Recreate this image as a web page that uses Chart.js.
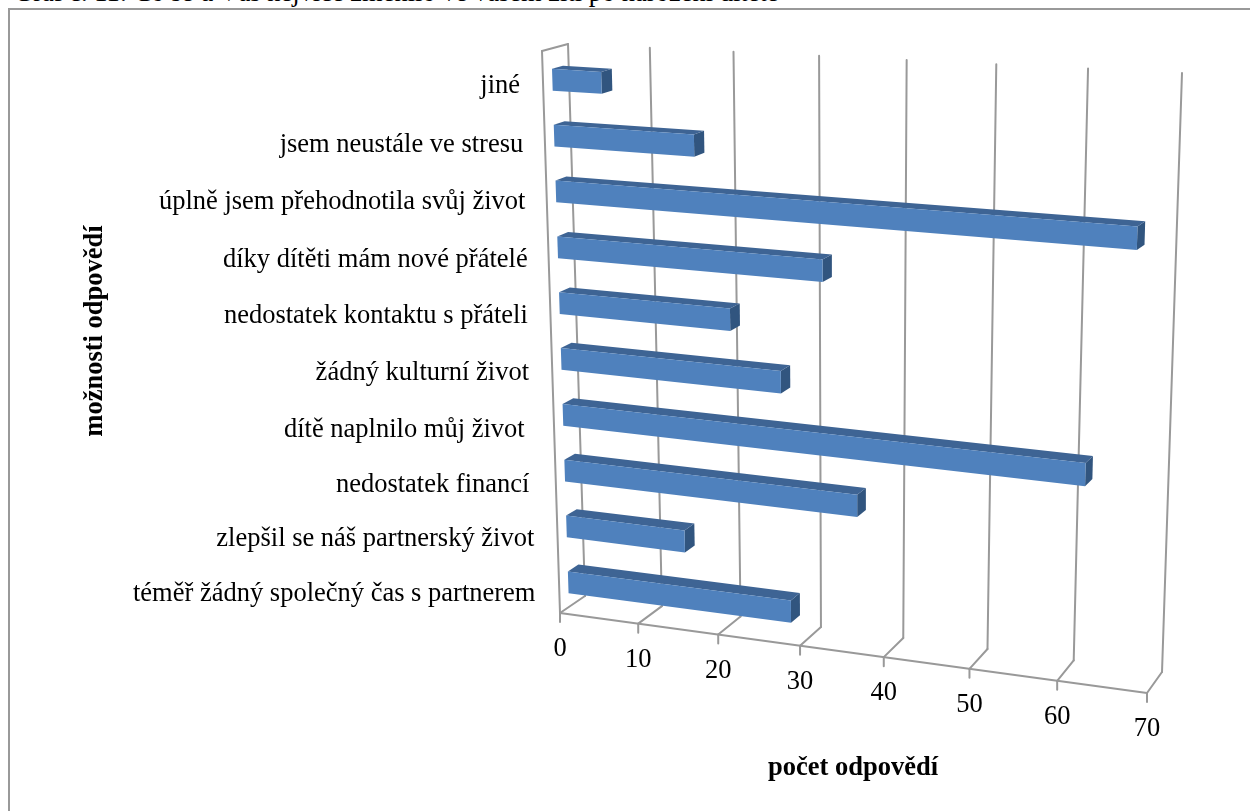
<!DOCTYPE html>
<html>
<head>
<meta charset="utf-8">
<title>možnosti odpovědí</title>
<script src="https://cdn.jsdelivr.net/npm/chart.js@4"></script>
<style>
    html, body { margin: 0; padding: 0; background: #fff; overflow: hidden; }
    #wrap { position: relative; width: 1250px; height: 811px; overflow: hidden; }
    #caption {
        position: absolute; left: 14px; top: -23px; line-height: 30px; white-space: nowrap;
        font-family: "Liberation Serif", serif; font-size: 26.5px; color: #000;
    }
    #frame {
        position: absolute; left: 8px; top: 8px; width: 1300px; height: 900px;
        border: 2px solid #999;
        background: #fff;
    }
    canvas { position: absolute; left: 0; top: 0; }
</style>
</head>
<body>
<div id="wrap">
    <div id="caption">Graf č. 11: Co se u Vás nejvíce změnilo ve vašem žití po narození dítěte</div>
    <div id="frame"></div>
    <canvas id="barChart" width="1250" height="811"></canvas>
</div>
<script>
const categories = [
    "jiné ",
    "jsem neustále ve stresu ",
    "úplně jsem přehodnotila svůj život ",
    "díky dítěti mám nové přátelé ",
    "nedostatek kontaktu s přáteli ",
    "žádný kulturní život ",
    "dítě naplnilo můj život  ",
    "nedostatek financí ",
    "zlepšil se náš partnerský život",
    "téměř žádný společný čas s partnerem"
];
const answers = [6, 17, 67, 32, 21, 27, 62, 36, 15, 28];
const valueTicks = [0, 10, 20, 30, 40, 50, 60, 70];
const yTitle = "možnosti odpovědí";
const xTitle = "počet odpovědí";

// corners of the 3D box on the page: front/back, bottom/top, left/right
const box = {
    fbl: [560, 613], fbr: [1147, 693], bbl: [585, 596], bbr: [1162, 672],
    ftl: [542, 51], ftr: [1163, 83], btl: [568, 44], btr: [1182, 73]
};
const foreshorten = 1.084;
const barDepth = [0.36, 0.78];
const barDrop = 0.006;
const barSag = 6;
const labelFont = '26.5px "Liberation Serif", serif';
const titleFont = 'bold 26.5px "Liberation Serif", serif';
// small hand nudges so the category labels sit like the original
const labelNudgeX = [2, 4, 5, 6, 5, 5, 6, 3, 0, 0];
const labelNudgeY = [-3, -1, 0, 2, 2, 3, 3, 2, 0, -1];

function mix(a, b, t) {
    return [a[0] + (b[0] - a[0]) * t, a[1] + (b[1] - a[1]) * t];
}

function bend(u) {
    return u / (u + foreshorten * (1 - u));
}

// u: 0-1 along the value axis, h: 0-1 up the wall, d: 0 front, 1 back
function project(u, h, d) {
    const k = bend(u);
    const front = mix(mix(box.fbl, box.fbr, k), mix(box.ftl, box.ftr, k), h);
    const back = mix(mix(box.bbl, box.bbr, k), mix(box.btl, box.btr, k), h);
    return mix(front, back, d);
}

// bars sit a little lower towards the right than the wall corners say
function barPoint(u, h, d) {
    const p = project(u, h, d);
    return [p[0], p[1] + barSag * bend(u) * Math.min(1, h * 3)];
}

function poly(ctx, points, fill) {
    ctx.beginPath();
    points.forEach((p, i) => i ? ctx.lineTo(p[0], p[1]) : ctx.moveTo(p[0], p[1]));
    ctx.closePath();
    ctx.fillStyle = fill;
    ctx.fill();
}

function line(ctx, a, b) {
    ctx.beginPath();
    ctx.moveTo(a[0], a[1]);
    ctx.lineTo(b[0], b[1]);
    ctx.stroke();
}

const perspective = {
    id: "perspective",
    beforeDatasetsDraw(chart) {
        const { ctx, chartArea: area, scales } = chart;
        const uOf = px => (px - area.left) / area.width;
        const hOf = px => (area.bottom - px) / area.height - barDrop;

        // walls and floor
        ctx.save();
        ctx.strokeStyle = "#999";
        ctx.lineWidth = 2;
        ctx.lineCap = "round";
        ctx.lineJoin = "round";
        line(ctx, project(0, 0, 0), project(0, 1, 0));
        line(ctx, project(0, 1, 0), project(0, 1, 1));
        scales.x.ticks.forEach(t => {
            const u = uOf(scales.x.getPixelForValue(t.value));
            const foot = project(u, 0, 0);
            line(ctx, [foot[0], foot[1] + 9], foot);
            line(ctx, foot, project(u, 0, 1));
            line(ctx, project(u, 0, 1), project(u, 1, 1));
        });
        line(ctx, project(0, 0, 0), project(1, 0, 0));

        // value labels
        ctx.fillStyle = "#000";
        ctx.font = labelFont;
        ctx.textAlign = "center";
        ctx.textBaseline = "middle";
        scales.x.ticks.forEach(t => {
            const foot = project(uOf(scales.x.getPixelForValue(t.value)), 0, 0);
            ctx.fillText(t.label, foot[0], foot[1] + 36);
        });

        // category labels
        ctx.textAlign = "right";
        categories.forEach((label, i) => {
            const h = hOf(scales.y.getPixelForValue(i));
            const p = project(0, h, 0);
            ctx.fillText(label, p[0] - 24 + 6 * h + labelNudgeX[i], p[1] + 7 + labelNudgeY[i]);
        });

        // axis titles
        ctx.font = titleFont;
        ctx.textAlign = "center";
        ctx.fillText(scales.x.options.title.text, 853, 768);
        ctx.translate(95, 331);
        ctx.rotate(-Math.PI / 2);
        ctx.fillText(scales.y.options.title.text, 0, 0);
        ctx.restore();

        // bars: end cap first, then top, then front
        const [near, far] = barDepth;
        chart.getDatasetMeta(0).data.forEach(bar => {
            const u0 = uOf(bar.base);
            const u1 = uOf(bar.x);
            const top = hOf(bar.y - bar.height / 2);
            const bottom = hOf(bar.y + bar.height / 2);
            poly(ctx, [barPoint(u1, top, near), barPoint(u1, top, far), barPoint(u1, bottom, far), barPoint(u1, bottom, near)], "#31557f");
            poly(ctx, [barPoint(u0, top, near), barPoint(u0, top, far), barPoint(u1, top, far), barPoint(u1, top, near)], "#3e6494");
            poly(ctx, [barPoint(u0, top, near), barPoint(u1, top, near), barPoint(u1, bottom, near), barPoint(u0, bottom, near)], "#4f81bd");
        });
        return false;
    }
};

new Chart(document.getElementById("barChart"), {
    type: "bar",
    data: {
        labels: categories,
        datasets: [{
            label: xTitle,
            data: answers,
            backgroundColor: "#4f81bd",
            categoryPercentage: 1,
            barPercentage: 0.39
        }]
    },
    options: {
        indexAxis: "y",
        responsive: false,
        animation: false,
        plugins: {
            legend: { display: false },
            tooltip: { enabled: false }
        },
        scales: {
            x: {
                min: 0,
                max: 70,
                afterBuildTicks: axis => { axis.ticks = valueTicks.map(value => ({ value, label: String(value) })); },
                ticks: { display: false },
                grid: { display: false },
                border: { display: false },
                title: { display: false, text: xTitle }
            },
            y: {
                ticks: { display: false },
                grid: { display: false },
                border: { display: false },
                title: { display: false, text: yTitle }
            }
        }
    },
    plugins: [perspective]
});
</script>
</body>
</html>
